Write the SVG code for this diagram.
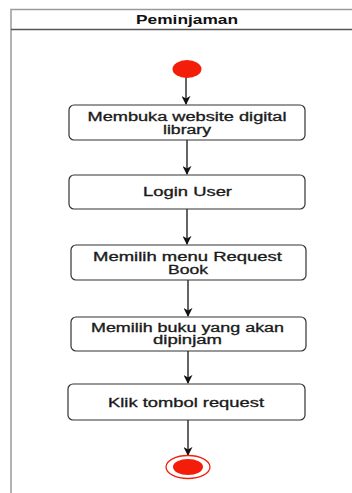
<svg xmlns="http://www.w3.org/2000/svg" width="352" height="493" viewBox="0 0 352 493">
<style>
.frame{fill:none;stroke:#9a9a9a;stroke-width:1.5}
.hdr{stroke:#555;stroke-width:1.5}
.box{fill:#fff;stroke:#333;stroke-width:1.2}
.t{font-family:"Liberation Sans",Arial,sans-serif;font-size:12px;fill:#1a1a1a;stroke:#1a1a1a;stroke-width:0.3;text-anchor:middle;dominant-baseline:central}
.h{font-family:"Liberation Sans",Arial,sans-serif;font-size:12px;font-weight:bold;fill:#111;text-anchor:middle;dominant-baseline:central}
.c{stroke:#111;stroke-width:1.3;fill:none;marker-end:url(#ah)}
</style>
<defs>
<marker id="ah" viewBox="0 0 10 10" refX="9" refY="5" markerWidth="9" markerHeight="9" markerUnits="userSpaceOnUse" orient="auto">
<path d="M0,0 L10,5 L0,10 L3,5 Z" fill="#111"/>
</marker>
</defs>
<rect width="352" height="493" fill="#fff"/>
<g id="lane">
<path class="frame" d="M352,9.5 H11 V493"/>
<line class="hdr" x1="11" y1="29.5" x2="352" y2="29.5"/>
<text class="h" x="187" y="19.5" textLength="102" lengthAdjust="spacingAndGlyphs">Peminjaman</text>
</g>
<g id="connectors">
<line class="c" x1="186" y1="77" x2="186" y2="104"/>
<line class="c" x1="187" y1="140" x2="187" y2="174"/>
<line class="c" x1="187" y1="209" x2="187" y2="244"/>
<line class="c" x1="188" y1="280" x2="188" y2="316"/>
<line class="c" x1="188" y1="351" x2="188" y2="383"/>
<line class="c" x1="188" y1="420" x2="188" y2="455"/>
</g>
<g id="start">
<ellipse cx="187" cy="69" rx="14.5" ry="9" fill="#f41d0a"/>
</g>
<g id="n1">
<rect class="box" x="69" y="105" width="236" height="35" rx="5"/>
<text class="t" x="187" y="116.5" textLength="199" lengthAdjust="spacingAndGlyphs">Membuka website digital</text>
<text class="t" x="187" y="129.5" textLength="48" lengthAdjust="spacingAndGlyphs">library</text>
</g>
<g id="n2">
<rect class="box" x="69" y="175" width="236" height="34" rx="5"/>
<text class="t" x="187.5" y="192" textLength="89" lengthAdjust="spacingAndGlyphs">Login User</text>
</g>
<g id="n3">
<rect class="box" x="71" y="245" width="235" height="35" rx="5"/>
<text class="t" x="187.5" y="256.5" textLength="189" lengthAdjust="spacingAndGlyphs">Memilih menu Request</text>
<text class="t" x="188" y="269.5" textLength="40" lengthAdjust="spacingAndGlyphs">Book</text>
</g>
<g id="n4">
<rect class="box" x="71" y="317" width="235" height="34" rx="5"/>
<text class="t" x="187.5" y="327.5" textLength="193" lengthAdjust="spacingAndGlyphs">Memilih buku yang akan</text>
<text class="t" x="187.5" y="340" textLength="69" lengthAdjust="spacingAndGlyphs">dipinjam</text>
</g>
<g id="n5">
<rect class="box" x="68" y="384" width="237" height="36" rx="5"/>
<text class="t" x="186" y="402.5" textLength="156" lengthAdjust="spacingAndGlyphs">Klik tombol request</text>
</g>
<g id="end">
<ellipse cx="188" cy="467" rx="22" ry="11.5" fill="none" stroke="#f41d0a" stroke-width="1.3"/>
<ellipse cx="188" cy="467" rx="15" ry="8" fill="#f41d0a"/>
</g>
</svg>
